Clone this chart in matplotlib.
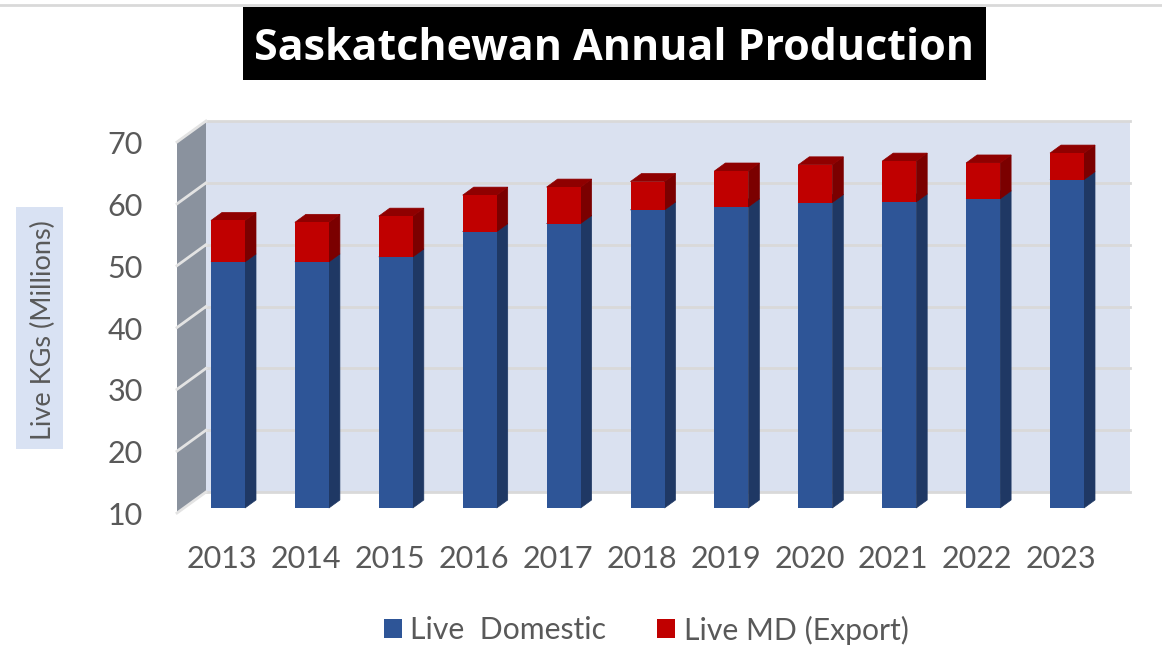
import matplotlib
matplotlib.use("Agg")
import matplotlib.pyplot as plt
from matplotlib.patches import Polygon, Rectangle

years = ["2013", "2014", "2015", "2016", "2017", "2018", "2019", "2020", "2021", "2022", "2023"]
domestic = [49.8, 49.8, 50.6, 54.7, 56.0, 58.2, 58.7, 59.4, 59.5, 60.0, 63.1]
export = [6.7, 6.4, 6.6, 5.9, 5.9, 4.6, 5.8, 6.1, 6.6, 5.8, 4.3]
y_ticks = [10, 20, 30, 40, 50, 60, 70]

W, H = 1162, 667
fig = plt.figure(figsize=(W / 100, H / 100), dpi=100)

# axes box is the front plane of the bars, in reference pixels
px_left, px_right, px_bottom, px_top = 177, 1130, 508, 137
ax = fig.add_axes([px_left / W, 1 - px_bottom / H, (px_right - px_left) / W, (px_bottom - px_top) / H])
x_step = 83.9
ax.set_xlim((177 - 228) / x_step, (1130 - 228) / x_step)
ax.set_ylim(10, 70)
ax.axis("off")
y_step = (px_bottom - px_top) / 60

# pixel offsets turned into data units for the fake 3d
def dx(px):
    return px / x_step

def dy(px):
    return px / y_step

x0, x1 = ax.get_xlim()
wall_x = x0 + dx(29)
low = 10 - dy(5)
high = 70 - dy(5)
wall_up = dy(21)

# back wall and side wall
ax.add_patch(Polygon([(wall_x, low + wall_up), (x1, low + wall_up), (x1, high + wall_up), (wall_x, high + wall_up)],
                     facecolor="#dae1f0", edgecolor="none", clip_on=False, zorder=1))
ax.add_patch(Polygon([(x0, low), (wall_x, low + wall_up), (wall_x, high + wall_up), (x0, high)],
                     facecolor="#8a929e", edgecolor="none", clip_on=False, zorder=1))

# gridlines wrap from the side wall on to the back wall
for t in y_ticks:
    v = t - dy(5)
    ax.plot([wall_x, x1], [v + wall_up, v + wall_up], color="#d9d9d9", lw=2.0, zorder=2, clip_on=False)
    ax.plot([x0, wall_x], [v, v + wall_up], color="#e3e3e3", lw=2.0, zorder=2, clip_on=False)

bar_w = 34 / x_step
depth_x = dx(11)
depth_y = dy(8)

# draws one segment with its side and top faces
def draw_segment(x, bottom, top, front, side, roof):
    left = x - bar_w / 2
    right = x + bar_w / 2
    ax.bar(x, top - bottom, bar_w, bottom=bottom, color=front, zorder=4, clip_on=False)
    ax.add_patch(Polygon([(right, bottom), (right + depth_x, bottom + depth_y), (right + depth_x, top + depth_y), (right, top)],
                         facecolor=side, edgecolor=side, lw=0.5, zorder=3, clip_on=False))
    ax.add_patch(Polygon([(left, top), (left + depth_x, top + depth_y), (right + depth_x, top + depth_y), (right, top)],
                         facecolor=roof, edgecolor=roof, lw=0.5, zorder=3, clip_on=False))

for i in range(len(years)):
    total = domestic[i] + export[i]
    draw_segment(i, 10, domestic[i], "#2e5597", "#1f3864", "#1f3864")
    draw_segment(i, domestic[i], total, "#c00000", "#7b0000", "#8f0000")
    ax.text(i - 0.07, 10 - dy(51), years[i], ha="center", va="center", fontsize=22, family="Lato",
            color="#595959", clip_on=False)

for t in y_ticks:
    ax.text(x0 - dx(34), t - dy(8), str(t), ha="right", va="center", fontsize=22, family="Lato",
            color="#595959", clip_on=False)

# top line, title, y label box and legend sit in pixel space
page = fig.add_axes([0, 0, 1, 1], zorder=-1)
page.set_xlim(0, W)
page.set_ylim(H, 0)
page.axis("off")
page.plot([0, W], [5, 5], color="#d9d9d9", lw=2)
page.add_patch(Rectangle((16, 207), 47, 242, facecolor="#d9e2f3", edgecolor="none"))
page.text(43, 330, "Live KGs (Millions)", rotation=90, ha="center", va="center", fontsize=19.5, family="Lato", color="#595959")

fig.text(614 / W, 1 - 49 / H, "Saskatchewan Annual Production", ha="center", va="center", fontsize=31, fontweight="bold",
         family="Open Sans", color="white")
page.add_patch(Rectangle((243, 7), 743, 73, facecolor="black", edgecolor="none"))

page.add_patch(Rectangle((384, 619), 18, 19, facecolor="#2e5597", edgecolor="none"))
page.text(410, 630, "Live  Domestic", ha="left", va="center", fontsize=21.7, family="Lato", color="#595959")
page.add_patch(Rectangle((657, 619), 18, 19, facecolor="#c00000", edgecolor="none"))
page.text(684, 630, "Live MD (Export)", ha="left", va="center", fontsize=21.7, family="Lato", color="#595959")

fig.savefig("out.png", dpi=100)
